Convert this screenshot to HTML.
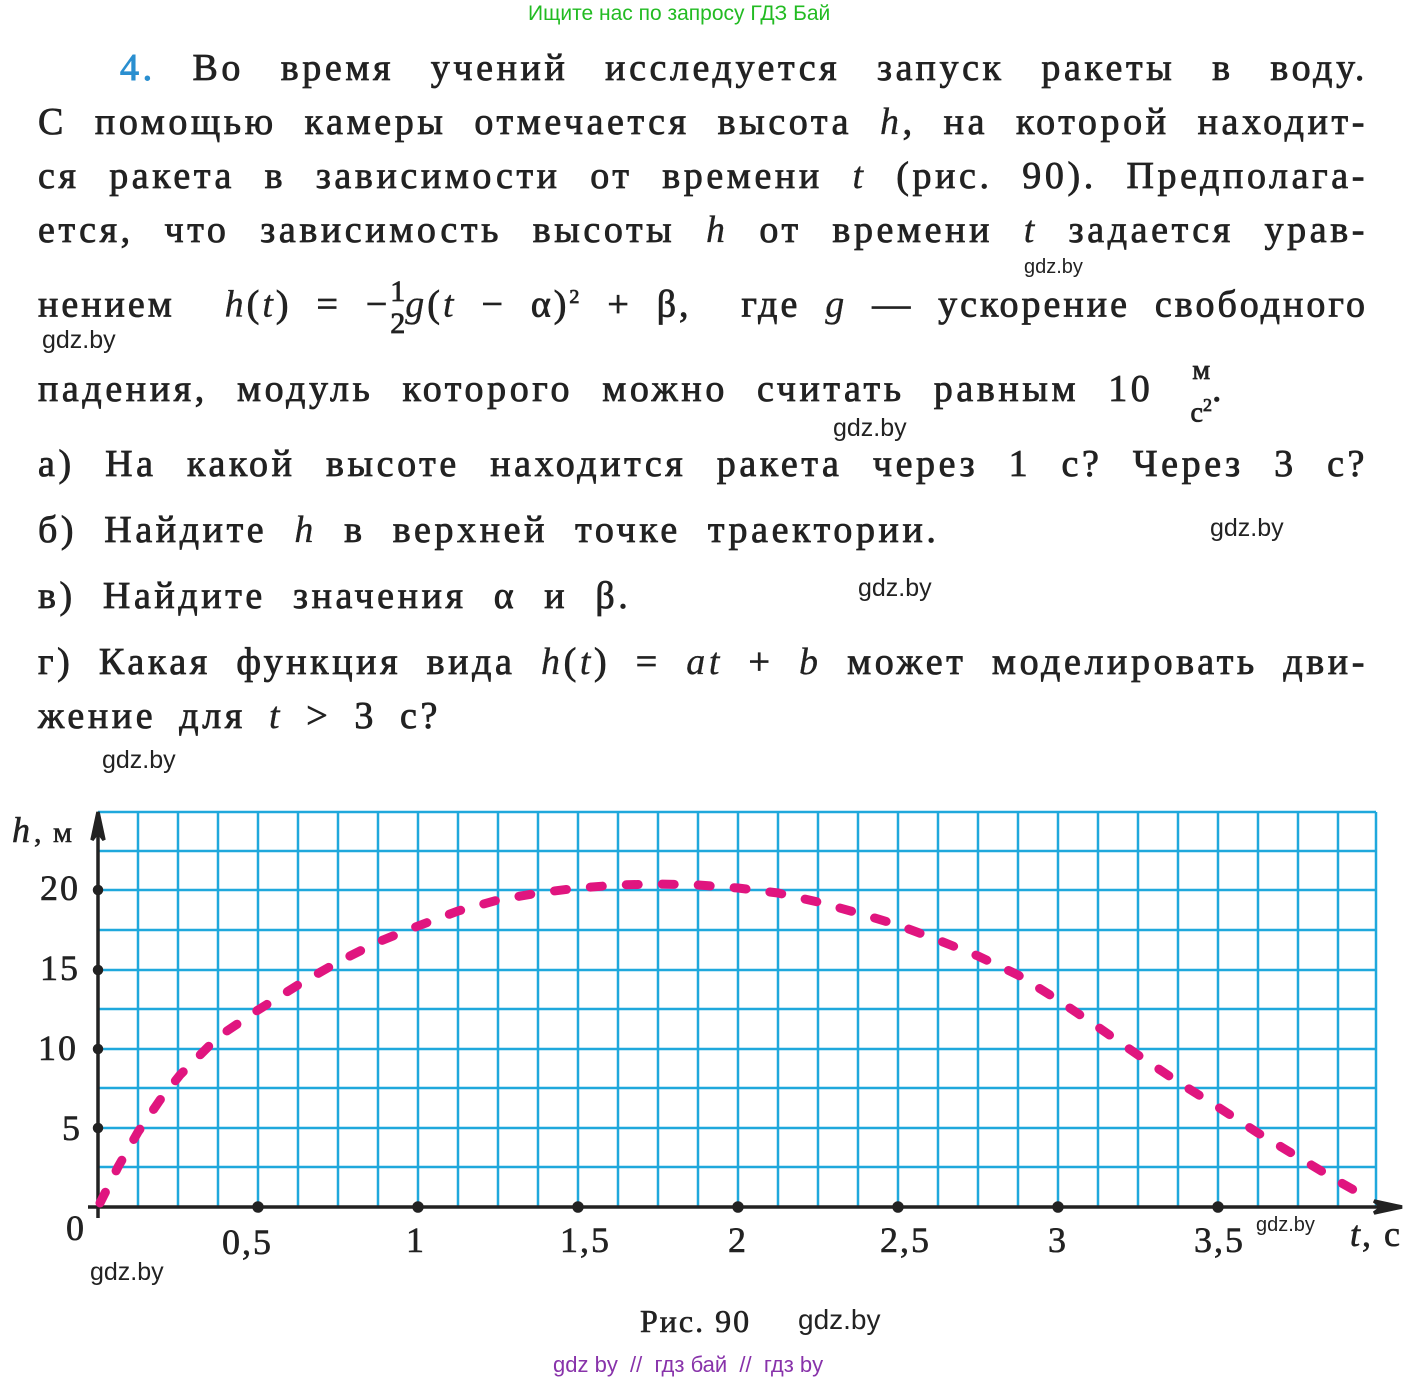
<!DOCTYPE html>
<html><head><meta charset="utf-8"><style>
body{margin:0;width:1416px;height:1384px;background:#fff;overflow:hidden;position:relative;font-family:"Liberation Serif",serif;}
.l{position:absolute;left:38px;width:1330px;font-size:38px;color:#222;text-align:justify;text-align-last:justify;white-space:nowrap;letter-spacing:3.6px;-webkit-text-stroke:0.8px #222}
.s{font-family:"Liberation Sans",sans-serif;position:absolute;color:#222;font-size:25px}
i{-webkit-text-stroke:0.3px #222}
</style></head><body>
<div class="s" style="left:528px;top:2px;color:#22bb22;font-size:21px">Ищите нас по запросу ГДЗ Бай</div>
<div class="l" style="top:46px;left:120px;width:1248px"><span style="color:#2a8fd0;-webkit-text-stroke:1px #2a8fd0">4.</span> Во время учений исследуется запуск ракеты в воду.</div>
<div class="l" style="top:100px">С помощью камеры отмечается высота <i>h</i>, на которой находит-</div>
<div class="l" style="top:154px">ся ракета в зависимости от времени <i>t</i> (рис. 90). Предполага-</div>
<div class="l" style="top:208px">ется, что зависимость высоты <i>h</i> от времени <i>t</i> задается урав-</div>
<div class="s" style="left:1024px;top:256px;font-size:20px">gdz.by</div>
<div class="l" style="top:276px;letter-spacing:3px">нением&nbsp;&nbsp;<i>h</i>(<i>t</i>)&nbsp;=&nbsp;−<span style="display:inline-block;vertical-align:middle;text-align:center;font-size:30px;line-height:32px;letter-spacing:0;text-align-last:center">1<br>2</span><i>g</i>(<i>t</i>&nbsp;−&nbsp;α)<sup style="font-size:20px">2</sup>&nbsp;+&nbsp;β,&nbsp; где <i>g</i> — ускорение свободного</div>
<div class="s" style="left:42px;top:326px">gdz.by</div>
<div class="l" style="top:354px;width:auto;text-align-last:auto;word-spacing:16px">падения, модуль которого можно считать равным 10 <span style="display:inline-block;vertical-align:middle;text-align:center;font-size:28px;line-height:34px;letter-spacing:0;margin-left:8px">м<br>с<sup style="font-size:18px">2</sup></span>.</div>
<div class="s" style="left:833px;top:414px">gdz.by</div>
<div class="l" style="top:442px">а) На какой высоте находится ракета через 1 с? Через 3 с?</div>
<div class="l" style="top:508px;width:auto;text-align-last:auto;word-spacing:14px">б) Найдите <i>h</i> в верхней точке траектории.</div>
<div class="s" style="left:1210px;top:514px">gdz.by</div>
<div class="l" style="top:574px;width:auto;text-align-last:auto;word-spacing:14px">в) Найдите значения α и β.</div>
<div class="s" style="left:858px;top:574px">gdz.by</div>
<div class="l" style="top:640px">г) Какая функция вида <i>h</i>(<i>t</i>) = <i>at</i> + <i>b</i> может моделировать дви-</div>
<div class="l" style="top:694px;width:auto;text-align-last:auto;word-spacing:10px">жение для <i>t</i> &gt; 3 с?</div>
<div class="s" style="left:102px;top:746px">gdz.by</div>
<svg width="1416" height="1384" style="position:absolute;left:0;top:0">
<g stroke="#1fa8dc" stroke-width="2.5">
<line x1="98" y1="812" x2="1376" y2="812"/><line x1="98" y1="851" x2="1376" y2="851"/><line x1="98" y1="890" x2="1376" y2="890"/><line x1="98" y1="930" x2="1376" y2="930"/><line x1="98" y1="970" x2="1376" y2="970"/><line x1="98" y1="1009" x2="1376" y2="1009"/><line x1="98" y1="1049" x2="1376" y2="1049"/><line x1="98" y1="1088" x2="1376" y2="1088"/><line x1="98" y1="1128" x2="1376" y2="1128"/><line x1="98" y1="1167" x2="1376" y2="1167"/>
<path d="M138 812V1207M178 812V1207M218 812V1207M258 812V1207M298 812V1207M338 812V1207M378 812V1207M418 812V1207M458 812V1207M498 812V1207M538 812V1207M578 812V1207M618 812V1207M658 812V1207M698 812V1207M738 812V1207M778 812V1207M818 812V1207M858 812V1207M898 812V1207M938 812V1207M978 812V1207M1018 812V1207M1058 812V1207M1098 812V1207M1138 812V1207M1178 812V1207M1218 812V1207M1258 812V1207M1298 812V1207M1338 812V1207M1376 812V1207"/>
</g>
<g stroke="#222" stroke-width="3.5" fill="#222">
<line x1="98" y1="820" x2="98" y2="1218"/><line x1="88" y1="1207" x2="1390" y2="1207"/>
<path d="M98 812 L92 840 L98 832 L104 840Z"/><path d="M1402 1207 L1374 1201 L1382 1207 L1374 1213Z"/>
<circle cx="98" cy="890" r="3.5"/><circle cx="98" cy="970" r="3.5"/><circle cx="98" cy="1049" r="3.5"/><circle cx="98" cy="1128" r="3.5"/>
<circle cx="258" cy="1207" r="4"/><circle cx="418" cy="1207" r="4"/><circle cx="578" cy="1207" r="4"/><circle cx="738" cy="1207" r="4"/><circle cx="898" cy="1207" r="4"/><circle cx="1058" cy="1207" r="4"/><circle cx="1218" cy="1207" r="4"/>
</g>
<polyline fill="none" stroke="#e0157f" stroke-width="9" stroke-linecap="round" stroke-dasharray="12 24" points="100,1203 118,1167 138,1132 160,1100 180,1075 218,1037 258,1010 298,985 338,962 378,942 418,926 458,911 498,900 538,893 578,888 618,885 658,884 698,885 738,888 778,893 818,902 858,913 898,925 938,940 978,956 1018,975 1058,1000 1098,1027 1138,1055 1178,1082 1218,1107 1258,1133 1298,1157 1338,1181 1368,1198"/>
<g font-family="Liberation Serif,serif" font-size="36" fill="#222" stroke="#222" stroke-width="0.6" letter-spacing="2">
<text x="12" y="842" font-style="italic">h</text><text x="34" y="842" font-size="30">, м</text>
<text x="40" y="900">20</text><text x="40" y="980">15</text><text x="38" y="1060">10</text><text x="62" y="1140">5</text>
<text x="66" y="1240">0</text>
<text x="222" y="1254">0,5</text><text x="406" y="1252">1</text><text x="560" y="1252">1,5</text><text x="728" y="1252">2</text><text x="880" y="1252">2,5</text><text x="1048" y="1252">3</text><text x="1194" y="1252">3,5</text>
<text x="1350" y="1246" font-style="italic">t</text><text x="1362" y="1246">, с</text>
<text x="640" y="1332" font-size="32">Рис. 90</text>
</g>
</svg>
<div class="s" style="left:1256px;top:1214px;font-size:20px">gdz.by</div>
<div class="s" style="left:90px;top:1258px">gdz.by</div>
<div class="s" style="left:798px;top:1304px;font-size:28px">gdz.by</div>
<div class="s" style="left:553px;top:1352px;color:#8833aa;font-size:22px">gdz by&nbsp; //&nbsp; гдз бай&nbsp; //&nbsp; гдз by</div>
</body></html>
